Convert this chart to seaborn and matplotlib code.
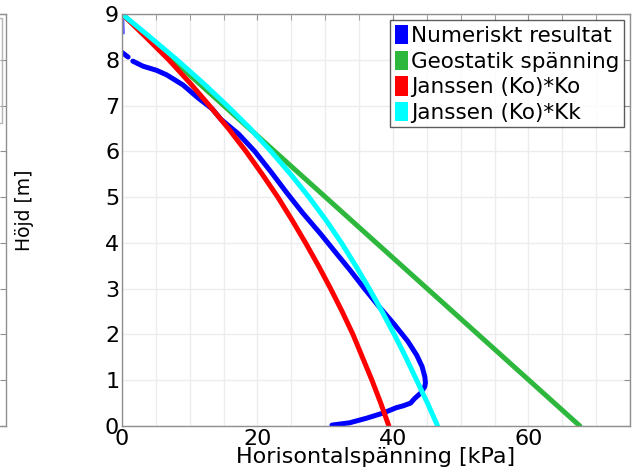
import numpy as np
import pandas as pd
import matplotlib
matplotlib.use("Agg")
import matplotlib.pyplot as plt
from matplotlib.patches import Patch, Rectangle
import seaborn as sns

# Heights (m) for the analytical curves, top of silo to bottom
hojd = [9.0, 8.5, 8.0, 7.5, 7.0, 6.5, 6.0, 5.5, 5.0, 4.5, 4.0, 3.5, 3.0, 2.5, 2.0, 1.5, 1.0, 0.5, 0.0]

# Janssen horizontal stress with Ko (kPa)
janssen_ko = [0.0, 3.5, 6.9, 10.0, 12.9, 15.7, 18.3, 20.7, 23.0, 25.1, 27.1, 29.0, 30.8, 32.5,
              34.1, 35.5, 36.9, 38.2, 39.4]
# Janssen horizontal stress with Kk (kPa)
janssen_kk = [0.0, 4.1, 8.1, 11.9, 15.5, 18.9, 22.0, 24.9, 27.6, 30.1, 32.4, 34.5, 36.5, 38.4,
              40.2, 41.9, 43.5, 45.1, 46.6]

# Geostatic stress (linear with depth)
geo_hojd = [9.0, 0.0]
geo_sigma = [0.0, 67.6]

# Numerical (FE) result, ordered along the wall from top to bottom
num_top_hojd = [8.95, 8.58]
num_top_sigma = [0.15, 0.25]
num_head_hojd = [8.16, 8.06]
num_head_sigma = [0.0, 0.9]
num_hojd = [7.97, 7.86, 7.77, 7.67, 7.45, 7.17, 6.93, 6.70, 6.38, 6.00, 5.55, 5.10, 4.65, 4.20,
            3.78, 3.40, 3.00, 2.60, 2.22, 1.85, 1.55, 1.30, 1.08, 0.95, 0.86, 0.72, 0.60, 0.50,
            0.44, 0.40, 0.28, 0.17, 0.07, 0.02]
num_sigma = [1.6, 3.1, 5.1, 6.6, 9.0, 11.2, 13.3, 14.6, 17.2, 19.6, 22.0, 24.3, 26.7, 29.3,
             31.6, 33.7, 35.8, 38.0, 40.2, 42.2, 43.5, 44.3, 44.7, 44.8, 44.7, 44.1, 43.2, 42.6,
             41.5, 40.5, 38.5, 36.1, 33.6, 31.0]

labels = ["Numeriskt resultat", "Geostatik spänning", "Janssen (Ko)*Ko", "Janssen (Ko)*Kk"]
colors = ["#0000ff", "#2db83d", "#ff0000", "#00ffff"]

x_ticks = [0, 20, 40, 60]
y_ticks = [0, 1, 2, 3, 4, 5, 6, 7, 8, 9]

sns.set_style("white")
plt.rcParams["font.family"] = ["DejaVu Sans"]
plt.rcParams["text.color"] = "black"
plt.rcParams["xtick.labelcolor"] = "black"
plt.rcParams["ytick.labelcolor"] = "black"
plt.rcParams["axes.labelcolor"] = "black"

W, H = 636, 474
fig = plt.figure(figsize=(W / 100, H / 100), dpi=100)

frame_col = "#8f8f8f"
grid_col = "#ececec"

# Neighbouring panel, only its right edge shows at the left border
ax0 = fig.add_axes([6 / W - 0.4, 48 / H, 0.4, 412 / H])
ax0.set_xlim(0, 1)
ax0.set_ylim(0, 9)
ax0.set_xticks([])
ax0.yaxis.tick_right()
ax0.set_yticks(y_ticks)
ax0.tick_params(axis="y", direction="in", length=4, color=frame_col, labelright=False)
for s in ax0.spines.values():
    s.set_color(frame_col)
    s.set_linewidth(1.0)
fig.add_artist(Rectangle((-0.3, (474 - 123) / H), 0.3 + 1.5 / W, (123 - 18) / H,
                         fill=False, edgecolor="#b5b5b5", lw=1.0, transform=fig.transFigure))

ax = fig.add_axes([122 / W, 48 / H, 508 / W, 412 / H])

lw = 3.6
sns.lineplot(x=num_sigma, y=num_hojd, sort=False, estimator=None, color=colors[0], lw=lw, ax=ax)
sns.lineplot(x=num_head_sigma, y=num_head_hojd, sort=False, estimator=None, color=colors[0], lw=lw, ax=ax)
sns.lineplot(x=num_top_sigma, y=num_top_hojd, sort=False, estimator=None, color=colors[0], lw=1.8,
             alpha=0.6, ax=ax)
sns.lineplot(x=geo_sigma, y=geo_hojd, sort=False, estimator=None, color=colors[1], lw=lw, ax=ax)
sns.lineplot(x=janssen_ko, y=hojd, sort=False, estimator=None, color=colors[2], lw=lw, ax=ax)
sns.lineplot(x=janssen_kk, y=hojd, sort=False, estimator=None, color=colors[3], lw=lw, ax=ax)

ax.set_xlim(0, 75)
ax.set_ylim(0, 9)
ax.set_xticks(x_ticks)
ax.set_xticks(np.arange(0, 76, 5), minor=True)
ax.set_yticks(y_ticks)
ax.grid(True, which="both", axis="x", color=grid_col, lw=1.0)
ax.grid(True, which="major", axis="y", color=grid_col, lw=1.0)
ax.set_axisbelow(True)
ax.tick_params(axis="both", which="both", direction="in", length=4, color=frame_col,
               top=True, right=True, labelsize=16, pad=2, labelcolor="black")
ax.tick_params(axis="x", which="minor", length=4)
for s in ax.spines.values():
    s.set_color(frame_col)
    s.set_linewidth(1.0)

ax.set_xlabel("Horisontalspänning [kPa]", fontsize=16, labelpad=-1, color="black")
ax.set_ylabel("")
fig.text(24 / W, 1 - 210 / H, "Höjd [m]", rotation=90, fontsize=13.5, ha="center", va="center",
         color="black")

handles = [Patch(facecolor=c, edgecolor="none") for c in colors]
leg = ax.legend(handles, labels, loc="upper right", fontsize=15.5, frameon=True, fancybox=False,
                handlelength=0.6, handleheight=1.0, handletextpad=0.15, labelspacing=0.22,
                borderpad=0.2, borderaxespad=0.3)
leg.get_frame().set_edgecolor("#333333")
leg.get_frame().set_linewidth(1.0)
for t in leg.get_texts():
    t.set_color("black")

fig.savefig("out.png", dpi=100)
